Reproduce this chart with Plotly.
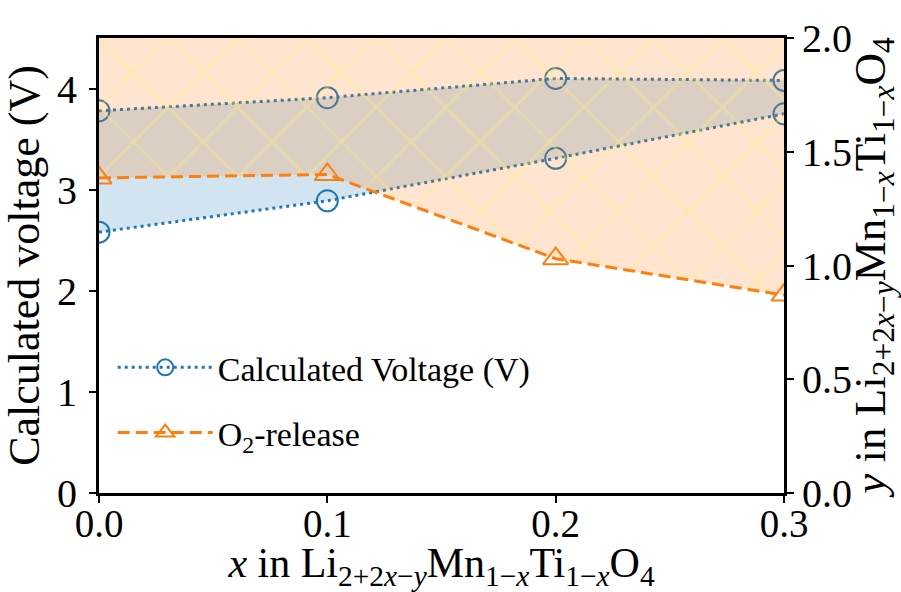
import plotly.graph_objects as go

# Composition x in Li(2+2x-y)Mn(1-x)Ti(1-x)O4
x_vals = [0.0, 0.1, 0.2, 0.3]

# Calculated voltage window (V): lower and upper bounds
voltage_low = [2.58, 2.89, 3.31, 3.75]
voltage_high = [3.78, 3.91, 4.10, 4.08]

# Oxygen release threshold, y in Li(2+2x-y)Mn(1-x)Ti(1-x)O4
o2_release = [1.385, 1.40, 1.03, 0.87]
y2_max = 2.0

left_ticks = [0, 1, 2, 3, 4]
right_ticks = [0.0, 0.5, 1.0, 1.5, 2.0]
x_ticks = [0.0, 0.1, 0.2, 0.3]

BLUE = "#1f77b4"
ORANGE = "#ff7f0e"
FONT = "Liberation Serif"

fig = go.Figure()

# Voltage window: lower bound carries the legend entry, upper bound fills down to it
fig.add_trace(go.Scatter(
    x=x_vals, y=voltage_low, mode="lines+markers",
    name="Calculated Voltage (V)", legendgroup="v",
    line=dict(color=BLUE, width=3, dash="3px,4px"),
    marker=dict(symbol="circle-open", size=21, color=BLUE, line=dict(width=2, color=BLUE)),
))
fig.add_trace(go.Scatter(
    x=x_vals, y=voltage_high, mode="lines+markers",
    showlegend=False, legendgroup="v",
    fill="tonexty", fillcolor="rgba(31,119,180,0.2)",
    line=dict(color=BLUE, width=3, dash="3px,4px"),
    marker=dict(symbol="circle-open", size=21, color=BLUE, line=dict(width=2, color=BLUE)),
))

# O2-release region: hatched area from the release curve up to the axis top
fig.add_trace(go.Scatter(
    x=x_vals, y=[y2_max] * len(x_vals), yaxis="y2", mode="lines",
    line=dict(width=0, color="rgba(0,0,0,0)"), showlegend=False, hoverinfo="skip",
))
fig.add_trace(go.Scatter(
    x=x_vals, y=o2_release, yaxis="y2", mode="lines",
    line=dict(width=0, color="rgba(0,0,0,0)"), showlegend=False,
    fill="tonexty", fillcolor="rgba(255,127,14,0.2)",
    fillpattern=dict(shape="x", size=49, solidity=0.09,
                     fgcolor="rgba(255,240,110,0.75)", bgcolor="rgba(255,127,14,0.2)",
                     fillmode="overlay"),
    hoverinfo="skip",
))
fig.add_trace(go.Scatter(
    x=x_vals, y=o2_release, yaxis="y2", mode="lines+markers",
    name="O<sub>2</sub>-release", legendgroup="o",
    line=dict(color=ORANGE, width=3, dash="12px,6px"),
    marker=dict(symbol="triangle-up-open", size=22, color=ORANGE, line=dict(width=2, color=ORANGE)),
))

axis_common = dict(
    showline=True, linecolor="black", linewidth=3,
    ticks="outside", ticklen=7, tickwidth=1.5, tickcolor="black",
    showgrid=False, zeroline=False, automargin=False,
    tickfont=dict(family=FONT, size=40, color="black"),
)

fig.update_layout(
    width=901, height=592,
    margin=dict(l=99, r=117, t=38, b=99),
    paper_bgcolor="white", plot_bgcolor="white",
    font=dict(family=FONT, color="black"),
    xaxis=dict(
        range=[0, 0.3], tickvals=x_ticks, tickformat=".1f", mirror=True,
        ticklabelstandoff=-13,
        title=dict(text="<i>x</i> in Li<sub>2+2<i>x</i>−<i>y</i></sub>Mn<sub>1−<i>x</i></sub>"
                        "Ti<sub>1−<i>x</i></sub>O<sub>4</sub>",
                   font=dict(family=FONT, size=42), standoff=13),
        **{**axis_common, "tickfont": dict(family=FONT, size=39, color="black")},
    ),
    yaxis=dict(
        range=[0, 4.5], tickvals=left_ticks, ticklabelstandoff=4,
        title=dict(text="Calculated voltage (V)", font=dict(family=FONT, size=44), standoff=4),
        **axis_common,
    ),
    yaxis2=dict(
        range=[0, 2.0], tickvals=right_ticks, tickformat=".1f",
        overlaying="y", side="right",
        title=dict(text="<i>y</i> in Li<sub>2+2<i>x</i>−<i>y</i></sub>Mn<sub>1−<i>x</i></sub>"
                        "Ti<sub>1−<i>x</i></sub>O<sub>4</sub>",
                   font=dict(family=FONT, size=45), standoff=8),
        **axis_common,
    ),
    legend=dict(
        x=0.02, y=0.339, xanchor="left", yanchor="top",
        bgcolor="rgba(0,0,0,0)", borderwidth=0,
        font=dict(family=FONT, size=34, color="black"),
        itemwidth=95, tracegroupgap=18, traceorder="grouped",
    ),
    showlegend=True,
)

fig.write_html("out.html")
